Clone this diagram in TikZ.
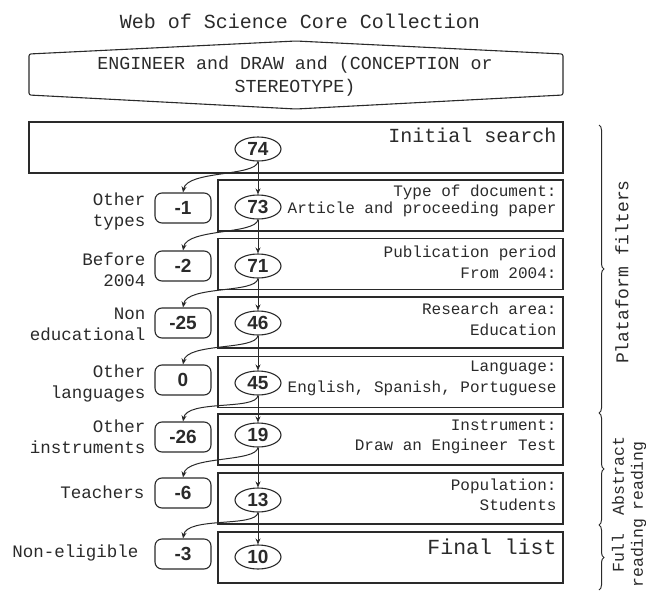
\documentclass[tikz,border=0pt]{standalone}
\usepackage{fontspec}
\setmainfont{Liberation Mono}
\newfontfamily\numfont{Liberation Sans}
\usetikzlibrary{shapes.geometric,decorations.pathreplacing,arrows.meta}
\definecolor{ink}{HTML}{2A2A2A}
\begin{document}
\begin{tikzpicture}[x=1pt,y=-1pt,
  every node/.style={text=ink},
  line width=1pt, draw=ink,
  stagebox/.style={draw=ink, line width=1.1pt, minimum width=345pt, minimum height=51pt, inner sep=0pt},
  cnt/.style={draw=ink, line width=1.1pt, ellipse, minimum width=46pt, minimum height=24pt, inner sep=0pt, font=\numfont\bfseries\fontsize{19}{19}\selectfont},
  rem/.style={draw=ink, line width=1.1pt, rounded corners=7pt, minimum width=56pt, minimum height=30pt, inner sep=0pt, font=\numfont\bfseries\fontsize{19}{19}\selectfont},
  boxtxt/.style={anchor=east, align=right, inner sep=0pt, font=\fontsize{16}{21}\selectfont},
  lefttxt/.style={anchor=east, align=right, inner sep=0pt, font=\fontsize{17.5}{21}\selectfont},
  sidetxt/.style={rotate=90, align=center, inner sep=0pt, font=\fontsize{18}{19}\selectfont},
  arr/.style={draw=ink, line width=1pt, -{Stealth[length=6pt,width=5pt]}},
  brc/.style={draw=ink, line width=1pt, decorate, decoration={brace, amplitude=5pt}}
]
\useasboundingbox (0,0) rectangle (646,592);

% title
\node[font=\fontsize{20}{20}\selectfont] (title) at (300,21) {Web of Science Core Collection};

% query banner
\draw[ink, line width=1.1pt, rounded corners=2pt] (29,54) -- (296,41) -- (563,54) -- (563,95) -- (296,109) -- (29,95) -- cycle;
\node[align=center, font=\fontsize{18.3}{23}\selectfont] (query) at (295,76) {ENGINEER and DRAW and (CONCEPTION or\\STEREOTYPE)};

% stage boxes
\node[stagebox, minimum width=534pt] (b0) at (296,147.5) {};
\node[stagebox] (b1) at (390.5,205.5) {};
\node[stagebox] (b2) at (390.5,264) {};
\node[stagebox] (b3) at (390.5,322.5) {};
\node[stagebox] (b4) at (390.5,382) {};
\node[stagebox] (b5) at (390.5,439.5) {};
\node[stagebox] (b6) at (390.5,498.5) {};
\node[stagebox] (b7) at (390.5,557.5) {};

% box texts
\node[boxtxt, font=\fontsize{20}{20}\selectfont] (t0) at (557,135) {Initial search};
\node[boxtxt, font=\fontsize{16}{17}\selectfont] (t1) at (557,200.5) {Type of document:\\Article and proceeding paper};
\node[boxtxt] (t2) at (557,262.5) {Publication period\\From 2004:};
\node[boxtxt] (t3) at (557,319.5) {Research area:\\Education};
\node[boxtxt] (t4) at (557,378.5) {Language:\\English, Spanish, Portuguese};
\node[boxtxt, font=\fontsize{16}{20}\selectfont] (t5) at (557,437) {Instrument:\\Draw an Engineer Test};
\node[boxtxt, font=\fontsize{16}{20}\selectfont] (t6) at (557,495) {Population:\\Students};
\node[boxtxt, font=\fontsize{21.5}{21}\selectfont] (t7) at (557,547) {Final list};

% counts
\node[cnt] (n74) at (258,149) {74};
\node[cnt] (n73) at (258,207) {73};
\node[cnt] (n71) at (258,266) {71};
\node[cnt] (n46) at (258,323) {46};
\node[cnt] (n45) at (258,383) {45};
\node[cnt] (n19) at (258,435) {19};
\node[cnt] (n13) at (258,500) {13};
\node[cnt] (n10) at (258,557) {10};

% removed
\node[rem] (m1) at (183,208) {-1};
\node[rem] (m2) at (183,266) {-2};
\node[rem] (m3) at (183,323) {-25};
\node[rem] (m4) at (183,380) {0};
\node[rem] (m5) at (183,437) {-26};
\node[rem] (m6) at (183,493) {-6};
\node[rem] (m7) at (183,554) {-3};

% left labels
\node[lefttxt] (l1) at (146,211) {Other\\types};
\node[lefttxt] (l2) at (146,270) {Before\\2004};
\node[lefttxt] (l3) at (146,324) {Non\\educational};
\node[lefttxt] (l4) at (146,383) {Other\\languages};
\node[lefttxt] (l5) at (146,437) {Other\\instruments};
\node[lefttxt] (l6) at (145,492) {Teachers};
\node[lefttxt] (l7) at (139,553) {Non-eligible};

% vertical arrows
\draw[arr] (n74) -- (n73);
\draw[arr] (n73) -- (n71);
\draw[arr] (n71) -- (n46);
\draw[arr] (n46) -- (n45);
\draw[arr] (n45) -- (n19);
\draw[arr] (n19) -- (n13);
\draw[arr] (n13) -- (n10);

% curved arrows
\draw[arr] (n74.south) .. controls +(-2,15) and +(4,-22) .. (m1.north);
\draw[arr] (n73.south) .. controls +(-2,15) and +(4,-22) .. (m2.north);
\draw[arr] (n71.south) .. controls +(-2,15) and +(4,-22) .. (m3.north);
\draw[arr] (n46.south) .. controls +(-2,15) and +(4,-22) .. (m4.north);
\draw[arr] (n45.south) .. controls +(-2,15) and +(4,-22) .. (m5.north);
\draw[arr] (n19.south) .. controls +(-2,15) and +(4,-22) .. (m6.north);
\draw[arr] (n13.south) .. controls +(-2,15) and +(4,-22) .. (m7.north);

% braces
\coordinate (bA) at (599,125);
\coordinate (bB) at (599,413);
\coordinate (bC) at (599,525);
\coordinate (bD) at (599,590);
\draw[brc] (bA) -- (bB);
\draw[brc] (bB) -- (bC);
\draw[brc] (bC) -- (bD);

\node[sidetxt] (s1) at (622,272) {Plataform filters};
\node[sidetxt, font=\fontsize{16.5}{19}\selectfont] (s2) at (629,476) {Abstract\\reading};
\node[sidetxt, font=\fontsize{16.5}{19}\selectfont] (s3) at (629,553) {Full\\reading};
\end{tikzpicture}
\end{document}
